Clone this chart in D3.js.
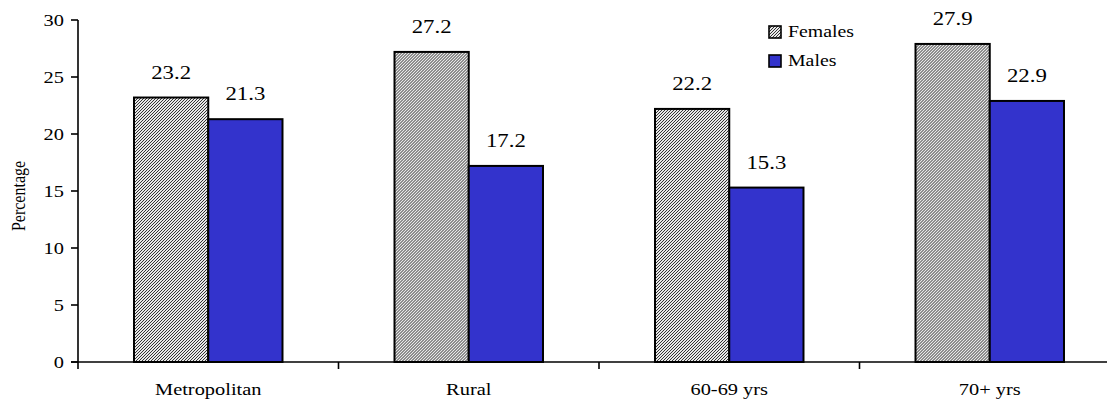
<!DOCTYPE html>
<html>
<head>
<meta charset="utf-8">
<script src="https://cdn.jsdelivr.net/npm/d3@7/dist/d3.min.js"></script>
<style>
  html, body { margin: 0; padding: 0; background: #fff; }
  svg { display: block; }
  text { font-family: "Times New Roman", "Liberation Serif", Tinos, Times, serif; fill: #000; }
</style>
</head>
<body>
<svg id="chart" width="1107" height="400"></svg>
<script>
// Chart data
const categories = ["Metropolitan", "Rural", "60-69 yrs", "70+ yrs"];
const seriesNames = ["Females", "Males"];
const females = [23.2, 27.2, 22.2, 27.9];
const males = [21.3, 17.2, 15.3, 22.9];
const yTicks = [0, 5, 10, 15, 20, 25, 30];

(function () {
const svg = d3.select("#chart");
const plotLeft = 78, plotRight = 1120, plotTop = 20, plotBottom = 362;
const stretch = 1.2; // horizontal text widening

// Hatch pattern for the female bars
const defs = svg.append("defs");
const pat = defs.append("pattern")
  .attr("id", "hatch")
  .attr("patternUnits", "userSpaceOnUse")
  .attr("width", 3).attr("height", 3);
pat.append("rect").attr("width", 3).attr("height", 3).attr("fill", "#e8e8e8");
pat.append("path")
  .attr("d", "M0,3 L3,0 M-1,1 L1,-1 M2,4 L4,2")
  .attr("stroke", "#333").attr("stroke-width", 1);

const x0 = d3.scaleBand().domain(categories).range([plotLeft, plotRight])
  .paddingInner(0.43).paddingOuter(0.215);
const x1 = d3.scaleBand().domain(seriesNames).range([0, x0.bandwidth()]);
const y = d3.scaleLinear().domain([0, 30]).range([plotBottom, plotTop]);

const fills = { Females: "url(#hatch)", Males: "#3333cc" };
const rows = categories.map((c, i) => ({ cat: c, Females: females[i], Males: males[i] }));

// Bars
const groups = svg.append("g").selectAll("g").data(rows).join("g")
  .attr("transform", d => `translate(${x0(d.cat)},0)`);
groups.selectAll("rect")
  .data(d => seriesNames.map(s => ({ s, v: d[s] })))
  .join("rect")
  .attr("x", d => x1(d.s))
  .attr("y", d => y(d.v))
  .attr("width", x1.bandwidth())
  .attr("height", d => y(0) - y(d.v))
  .attr("fill", d => fills[d.s])
  .attr("stroke", "#000").attr("stroke-width", 2);

// Value labels
groups.selectAll("text.val")
  .data(d => seriesNames.map(s => ({ s, v: d[s] })))
  .join("text")
  .attr("class", "val")
  .attr("transform", d => `translate(${x1(d.s) + x1.bandwidth() / 2},${y(d.v) - 19}) scale(${stretch},1)`)
  .attr("text-anchor", "middle")
  .attr("font-size", 19)
  .text(d => d.v.toFixed(1));

// Y axis
const yAxis = svg.append("g");
yAxis.append("line").attr("x1", plotLeft).attr("x2", plotLeft).attr("y1", plotTop).attr("y2", plotBottom)
  .attr("stroke", "#000").attr("stroke-width", 1.6);
yAxis.selectAll("line.tick").data(yTicks).join("line").attr("class", "tick")
  .attr("x1", plotLeft - 7).attr("x2", plotLeft).attr("y1", d => y(d)).attr("y2", d => y(d))
  .attr("stroke", "#000").attr("stroke-width", 1.6);
yAxis.selectAll("text").data(yTicks).join("text")
  .attr("transform", d => `translate(${plotLeft - 14},${y(d) + 5.5}) scale(${stretch},1)`)
  .attr("text-anchor", "end")
  .attr("font-size", 17)
  .text(d => d);

// X axis
const xAxis = svg.append("g");
xAxis.append("line").attr("x1", plotLeft - 7).attr("x2", plotRight).attr("y1", plotBottom).attr("y2", plotBottom)
  .attr("stroke", "#000").attr("stroke-width", 1.6);
const bounds = categories.map(c => x0(c) - x0.step() * x0.paddingOuter());
xAxis.selectAll("line.tick").data(bounds).join("line").attr("class", "tick")
  .attr("x1", d => d).attr("x2", d => d).attr("y1", plotBottom).attr("y2", plotBottom + 7)
  .attr("stroke", "#000").attr("stroke-width", 1.6);
xAxis.selectAll("text").data(categories).join("text")
  .attr("transform", d => `translate(${x0(d) + x0.bandwidth() / 2},${plotBottom + 33}) scale(${stretch},1)`)
  .attr("text-anchor", "middle")
  .attr("font-size", 17)
  .text(d => d);

// Y axis title
svg.append("text")
  .attr("transform", `translate(25,196) rotate(-90) scale(1,${stretch})`)
  .attr("text-anchor", "middle")
  .attr("font-size", 16)
  .text("Percentage");

// Legend
const legend = svg.append("g").attr("transform", "translate(769,26)");
seriesNames.forEach((s, i) => {
  const g = legend.append("g").attr("transform", `translate(0,${i * 29})`);
  g.append("rect").attr("width", 12).attr("height", 12)
    .attr("fill", fills[s]).attr("stroke", "#000").attr("stroke-width", 1.6);
  g.append("text")
    .attr("transform", `translate(19,11) scale(${stretch},1)`)
    .attr("font-size", 16.5)
    .text(s);
});
})();
</script>
</body>
</html>
